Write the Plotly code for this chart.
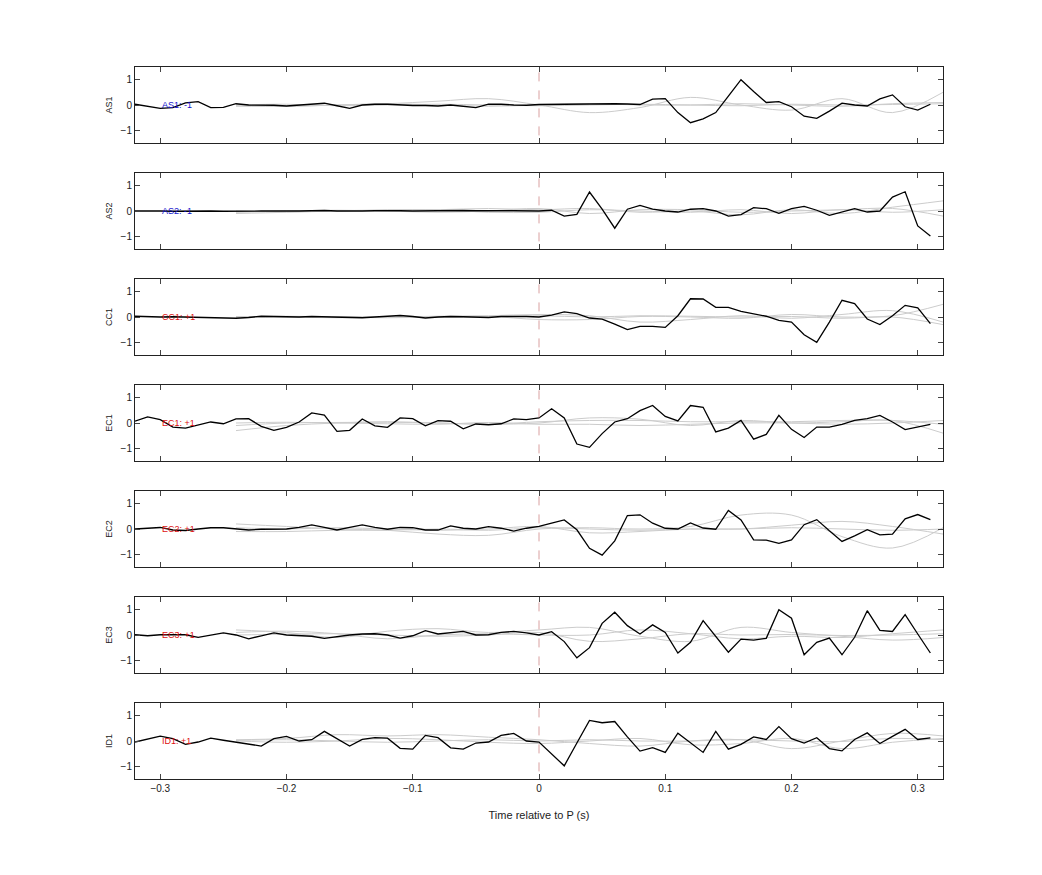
import plotly.graph_objects as go
from plotly.subplots import make_subplots

# stations, polarity labels
stations = ["AS1", "AS2", "CC1", "EC1", "EC2", "EC3", "ID1"]
polarity = ["-1", "-1", "+1", "+1", "+1", "+1", "+1"]

# sample times of the stacked trace (s)
t = [round(-0.32 + 0.01 * i, 2) for i in range(64)]
# sample times of the smooth grey traces
tg = [-0.24, -0.20, -0.16, -0.12, -0.08, -0.04, 0.0, 0.04, 0.08, 0.12, 0.16, 0.20, 0.24, 0.28, 0.32]

black = {
    "AS1": [0.03, -0.04, -0.13, -0.1, 0.08, 0.13, -0.1, -0.09, 0.05, 0, 0, -0.01, -0.04, 0, 0.03, 0.07,
            -0.03, -0.13, 0, 0.03, 0.03, 0, -0.02, -0.02, -0.04, 0, -0.04, -0.1, 0.03, 0.03, 0, -0.01,
            0.02, 0.03, 0.04, 0.04, 0.03, 0.05, 0.05, 0.04, 0.02, 0.23, 0.25, -0.3, -0.7, -0.55, -0.3, 0.35,
            1.0, 0.53, 0.1, 0.13, -0.07, -0.44, -0.53, -0.24, 0.07, 0, -0.04, 0.24, 0.4, -0.07, -0.2, 0.03],
    "AS2": [0, 0.01, 0, -0.01, 0, 0.01, 0, -0.01, 0, 0.01, 0, 0, -0.01, 0, 0.01, 0.02,
            0, -0.01, 0, 0.01, 0.02, 0.01, 0, 0.01, 0.02, 0.03, 0.02, 0.01, 0.02, 0.01, 0.01, 0,
            0, 0.03, -0.2, -0.13, 0.75, 0.07, -0.68, 0.07, 0.22, 0.07, 0, -0.04, 0.07, 0.09, 0, -0.2,
            -0.14, 0.13, 0.09, -0.09, 0.09, 0.18, 0.03, -0.17, -0.04, 0.09, -0.04, 0, 0.55, 0.76, -0.59, -0.99],
    "CC1": [0.03, 0.01, 0, 0.01, 0, 0, -0.01, -0.02, -0.05, -0.02, 0.03, 0.02, 0.01, 0, 0.02, 0.01,
            -0.01, -0.02, -0.03, 0, 0.02, 0.06, 0.02, -0.04, 0, 0.02, 0.01, 0, -0.02, 0.02, 0.03, 0.02,
            0, 0.07, 0.2, 0.13, -0.04, -0.08, -0.28, -0.5, -0.37, -0.37, -0.41, 0.05, 0.72, 0.71, 0.38, 0.38,
            0.22, 0.12, 0.03, -0.13, -0.2, -0.7, -1.0, -0.2, 0.66, 0.53, -0.08, -0.3, 0.05, 0.46, 0.36, -0.26],
    "EC1": [0.07, 0.24, 0.13, -0.16, -0.2, -0.07, 0.04, -0.03, 0.16, 0.17, -0.13, -0.29, -0.17, 0.04, 0.4, 0.31,
            -0.33, -0.29, 0.16, -0.11, -0.17, 0.2, 0.17, -0.11, 0.09, 0.07, -0.23, -0.04, -0.07, -0.03, 0.16, 0.13,
            0.2, 0.56, 0.2, -0.83, -0.96, -0.42, 0.04, 0.17, 0.49, 0.69, 0.26, 0.08, 0.69, 0.62, -0.35, -0.2,
            0.1, -0.64, -0.45, 0.3, -0.25, -0.57, -0.16, -0.16, -0.05, 0.1, 0.17, 0.3, 0.04, -0.26, -0.16, -0.05],
    "EC2": [0, 0.03, 0.06, -0.04, -0.06, 0, 0.05, 0.05, 0, -0.04, -0.01, 0, 0, 0.06, 0.16, 0.06,
            -0.04, 0.06, 0.16, 0.06, -0.01, 0.06, 0.05, -0.04, -0.04, 0.12, 0.03, 0, 0.09, 0.03, -0.08, 0.03,
            0.1, 0.23, 0.36, -0.03, -0.76, -1.03, -0.47, 0.53, 0.56, 0.23, 0.03, 0, 0.24, 0.04, -0.01, 0.73,
            0.36, -0.43, -0.44, -0.57, -0.43, 0.17, 0.37, -0.07, -0.49, -0.27, -0.03, -0.23, -0.2, 0.4, 0.57, 0.37],
    "EC3": [0.01, -0.03, 0.01, 0, 0.01, -0.09, 0.01, 0.08, 0, -0.15, -0.03, 0.08, 0, -0.03, -0.05, -0.13,
            -0.05, 0, 0.04, 0.05, 0, -0.12, -0.03, 0.17, 0.04, 0.08, 0.14, 0, 0.01, 0.1, 0.14, 0.08,
            0, 0.13, -0.26, -0.9, -0.5, 0.46, 0.9, 0.37, 0.04, 0.4, 0.1, -0.71, -0.29, 0.57, -0.05, -0.68,
            -0.16, -0.2, -0.13, 1.0, 0.66, -0.78, -0.29, -0.12, -0.78, -0.09, 0.96, 0.18, 0.14, 0.8, 0.04, -0.71],
    "ID1": [-0.04, 0.09, 0.19, 0.09, -0.13, -0.04, 0.11, 0.03, -0.04, -0.13, -0.2, 0.09, 0.18, 0, 0.05, 0.38,
            0.09, -0.2, 0.06, 0.13, 0.11, -0.29, -0.32, 0.22, 0.13, -0.27, -0.32, -0.08, -0.04, 0.22, 0.3, 0,
            -0.04, -0.5, -0.98, -0.08, 0.81, 0.72, 0.77, 0.16, -0.4, -0.26, -0.45, 0.31, -0.08, -0.45, 0.38, -0.32,
            -0.13, 0.16, 0.06, 0.57, 0.09, -0.08, 0.13, -0.3, -0.39, 0.06, 0.32, -0.1, 0.18, 0.46, 0.06, 0.12],
}

grey = {
    "AS1": [[0, -0.05, 0, 0.05, 0.15, 0.25, 0, -0.3, -0.1, 0.3, 0, -0.2, 0.25, -0.3, 0.5],
            [-0.05, -0.05, 0, 0.05, 0, -0.05, 0, 0.05, 0, 0, 0.05, 0, -0.05, 0.05, 0.1],
            [0, 0.03, -0.03, 0, 0.03, 0, -0.03, 0, 0.03, 0, -0.03, 0.03, 0, 0.02, 0.05]],
    "AS2": [[-0.1, -0.05, 0, 0.05, 0.05, 0.1, 0.05, 0.1, -0.05, 0, -0.15, 0.05, -0.1, 0.15, 0.4],
            [-0.05, 0, 0.03, 0, -0.05, 0, 0.1, -0.1, 0.05, 0.05, -0.05, 0, 0.05, 0.1, -0.2],
            [0, -0.03, 0, 0.03, 0.05, -0.05, -0.05, 0.05, 0, -0.05, 0.05, -0.1, 0.05, -0.05, 0.05]],
    "CC1": [[0.02, 0, -0.03, 0, 0.03, 0.05, 0.1, 0.05, -0.2, -0.1, 0.05, -0.05, 0.1, 0.25, -0.2],
            [0, 0.03, 0, -0.03, 0, 0.02, -0.1, -0.1, 0.02, 0, -0.05, 0.1, 0, 0.05, 0.5],
            [-0.02, 0, 0.02, 0, -0.02, 0, 0.05, 0, 0.05, 0.03, 0, 0.02, -0.05, 0, -0.3]],
    "EC1": [[-0.3, -0.1, 0, 0.05, 0, -0.05, 0, 0.2, 0.15, -0.1, 0.1, 0, 0.05, 0.1, -0.4],
            [-0.1, 0, 0.02, 0.03, 0, -0.05, 0.05, 0.1, 0.1, 0.05, 0.05, 0.05, 0.1, 0.1, -0.05],
            [0, 0.03, 0, -0.03, -0.05, 0.02, -0.05, -0.05, -0.1, -0.05, 0, 0, -0.05, 0, 0.1]],
    "EC2": [[0.2, 0.1, 0, -0.05, -0.2, -0.25, 0, 0.05, 0, 0.1, 0.55, 0.55, -0.3, -0.75, 0.05],
            [-0.1, -0.1, -0.05, -0.05, 0, -0.05, 0.05, 0, -0.05, 0, 0, 0.15, 0.3, 0.1, -0.2],
            [0.05, 0, 0.05, 0, -0.05, 0, 0.1, -0.15, -0.1, 0, 0, 0.05, 0, -0.05, 0]],
    "EC3": [[0.2, 0.1, -0.1, 0.15, 0.25, 0.1, 0.2, 0.3, -0.05, -0.25, 0.3, 0.1, -0.05, -0.2, -0.1],
            [0.1, 0.15, 0.05, -0.15, 0, 0.05, 0, 0, 0.2, 0.05, -0.15, -0.05, -0.1, 0.05, 0.2],
            [0, 0.03, 0.05, 0, -0.05, 0, 0.1, -0.25, -0.15, 0.05, 0, 0.02, -0.02, 0, 0.05]],
    "ID1": [[0.05, 0.1, 0.25, 0.2, 0.25, 0.15, 0.05, -0.1, -0.2, 0, 0.05, -0.3, 0, 0.3, 0.2],
            [0, -0.05, 0, 0.1, 0.05, -0.05, -0.1, 0, 0.1, -0.15, -0.1, 0.1, -0.3, -0.05, 0.1],
            [0.02, 0.05, 0, -0.05, 0, 0.05, 0, 0.05, 0, 0, 0.05, 0, -0.02, 0.1, 0.05]],
}

n = len(stations)
fig = make_subplots(rows=n, cols=1, shared_xaxes=True, vertical_spacing=30 / 712)
font = "Liberation Sans, Arial, sans-serif"

for i, st in enumerate(stations):
    r = i + 1
    for g in grey[st]:
        fig.add_trace(go.Scatter(x=tg, y=g, mode="lines", line=dict(color="#cccccc", width=1, shape="spline"),
                                 showlegend=False, hoverinfo="skip"), row=r, col=1)
    fig.add_trace(go.Scatter(x=t, y=black[st], mode="lines", line=dict(color="black", width=1.3),
                             showlegend=False), row=r, col=1)
    fig.add_shape(type="line", x0=0, x1=0, y0=-1.2, y1=1.5, line=dict(color="#d9a0a0", width=1, dash="dash"),
                  row=r, col=1)
    col = "#1010cc" if polarity[i].startswith("-") else "#dd1010"
    fig.add_annotation(x=-0.3, y=0, text=f"{st}: {polarity[i]}", showarrow=False, xanchor="left",
                       font=dict(size=9, color=col, family=font), row=r, col=1)
    fig.update_yaxes(range=[-1.5, 1.5], tickvals=[-1, 0, 1], ticks="inside", ticklen=5, mirror="ticks",
                     showline=True, linecolor="#222", linewidth=1, showgrid=False, zeroline=False,
                     title=dict(text=st, font=dict(size=9), standoff=6), tickfont=dict(size=10),
                     row=r, col=1)
    fig.update_xaxes(range=[-0.32, 0.32], tickvals=[-0.3, -0.2, -0.1, 0, 0.1, 0.2, 0.3], ticks="inside",
                     ticklen=5, mirror="ticks", showline=True, linecolor="#222", linewidth=1,
                     showgrid=False, zeroline=False, tickfont=dict(size=10), row=r, col=1)

fig.update_xaxes(title=dict(text="Time relative to P (s)", font=dict(size=11), standoff=18), row=n, col=1)
fig.update_layout(width=1042, height=875, margin=dict(l=127, r=107, t=59, b=104),
                  plot_bgcolor="white", paper_bgcolor="white",
                  font=dict(family=font, color="#222"))
fig.write_html("out.html")
